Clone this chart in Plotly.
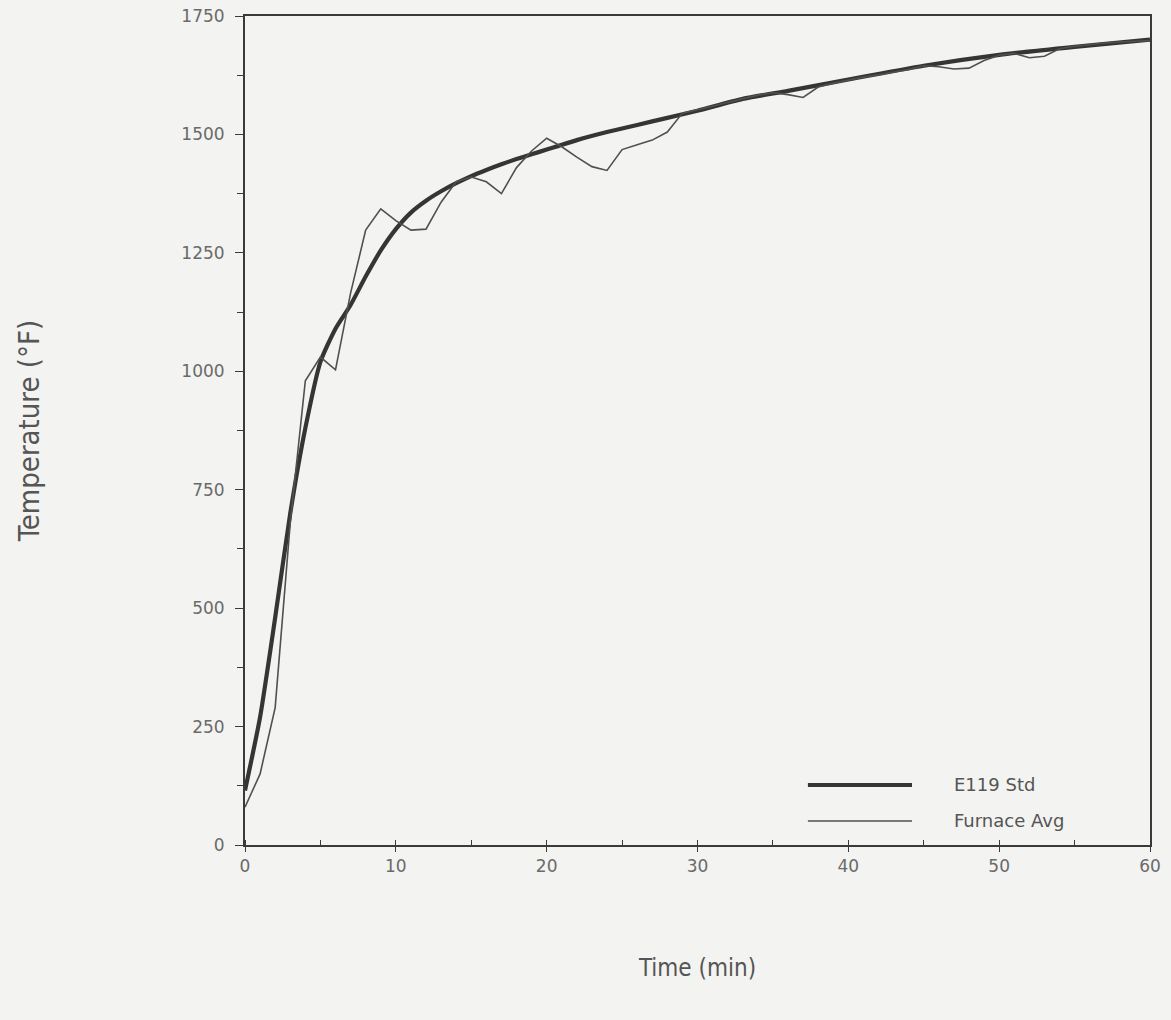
import plotly.graph_objects as go

# ASTM E119 standard time-temperature curve (min, deg F)
std_time = [0, 1, 2, 3, 4, 5, 6, 7, 8, 9, 10, 11, 12, 13, 14, 15, 16, 17, 18, 19,
            20, 22, 24, 26, 28, 30, 33, 36, 40, 45, 50, 55, 60]
std_temp = [115, 270, 480, 700, 880, 1020, 1090, 1140, 1200, 1255, 1300, 1335, 1360,
            1380, 1397, 1412, 1425, 1437, 1448, 1458, 1468, 1488, 1505, 1520, 1535,
            1550, 1575, 1592, 1616, 1645, 1668, 1685, 1700]

# Furnace average thermocouple reading, sampled every minute
furn_time = list(range(0, 61))
furn_temp = [80, 150, 290, 680, 980, 1030, 1003, 1165, 1298, 1343, 1318, 1298, 1300,
             1357, 1400, 1410, 1400, 1375, 1430, 1465, 1492, 1474, 1452, 1432, 1424,
             1468, 1478, 1488, 1505, 1545, 1552, 1560, 1568, 1576, 1583, 1588, 1584,
             1578, 1600, 1608, 1615, 1621, 1626, 1631, 1637, 1645, 1643, 1638, 1640,
             1656, 1667, 1671, 1662, 1665, 1681, 1686, 1690, 1693, 1695, 1697, 1698]

x_ticks = [0, 10, 20, 30, 40, 50, 60]
y_ticks = [0, 250, 500, 750, 1000, 1250, 1500, 1750]

legend_names = ["E119 Std", "Furnace Avg"]

BG = "#f3f3f1"
INK = "#3a3a3a"
TICK_FONT = dict(family="DejaVu Sans, Verdana, sans-serif", size=17, color="#6a6a6a")
XTITLE_FONT = dict(family="Liberation Sans Narrow, DejaVu Sans Condensed, Roboto, sans-serif",
                   size=24, color="#555555")
YTITLE_FONT = dict(family="Liberation Sans Narrow, DejaVu Sans Condensed, Roboto, sans-serif",
                   size=29, color="#555555")

fig = go.Figure()

fig.add_trace(go.Scatter(
    x=std_time, y=std_temp, mode="lines", name=legend_names[0],
    line=dict(color="#353535", width=4.2, shape="spline", smoothing=0.6),
    showlegend=False,
))
fig.add_trace(go.Scatter(
    x=furn_time, y=furn_temp, mode="lines", name=legend_names[1],
    line=dict(color="#505050", width=1.6),
    showlegend=False,
))

# Legend drawn inside the plot area: long sample lines followed by labels
legend_rows = [(0.0724, 4.2, "#353535"), (0.029, 1.6, "#505050")]
for (yy, w, c), name in zip(legend_rows, legend_names):
    fig.add_shape(type="line", xref="paper", yref="paper",
                  x0=0.622, x1=0.737, y0=yy, y1=yy,
                  line=dict(color=c, width=w))
    fig.add_annotation(xref="paper", yref="paper", x=0.781, y=yy,
                       text=name, showarrow=False, xanchor="left", yanchor="middle",
                       font=dict(family="DejaVu Sans, Verdana, sans-serif",
                                 size=18, color="#555555"))

fig.update_xaxes(
    range=[0, 60], tickvals=x_ticks, ticktext=[str(v) for v in x_ticks],
    ticks="outside", ticklen=5, tickwidth=1.2, tickcolor=INK,
    minor=dict(dtick=5, ticks="inside", ticklen=5, tickcolor=INK, tickwidth=1.2),
    showline=True, linecolor=INK, linewidth=2, mirror=True,
    showgrid=False, zeroline=False, automargin=False,
    tickfont=TICK_FONT,
    title=dict(text="Time (min)", font=XTITLE_FONT, standoff=84),
)
fig.update_yaxes(
    range=[0, 1750], tickvals=y_ticks, ticktext=[str(v) for v in y_ticks],
    ticks="outside", ticklen=8, tickwidth=1.2, tickcolor=INK,
    minor=dict(dtick=125, ticks="outside", ticklen=6, tickcolor=INK, tickwidth=1.2),
    showline=True, linecolor=INK, linewidth=2, mirror=True,
    showgrid=False, zeroline=False, automargin=False,
    tickfont=TICK_FONT, ticklabelstandoff=7,
    title=dict(text="Temperature (°F)", font=YTITLE_FONT, standoff=133),
)

fig.update_layout(
    width=1171, height=1020,
    margin=dict(l=245, r=21, t=16, b=175),
    paper_bgcolor=BG, plot_bgcolor=BG,
)

fig.write_html("out.html")
